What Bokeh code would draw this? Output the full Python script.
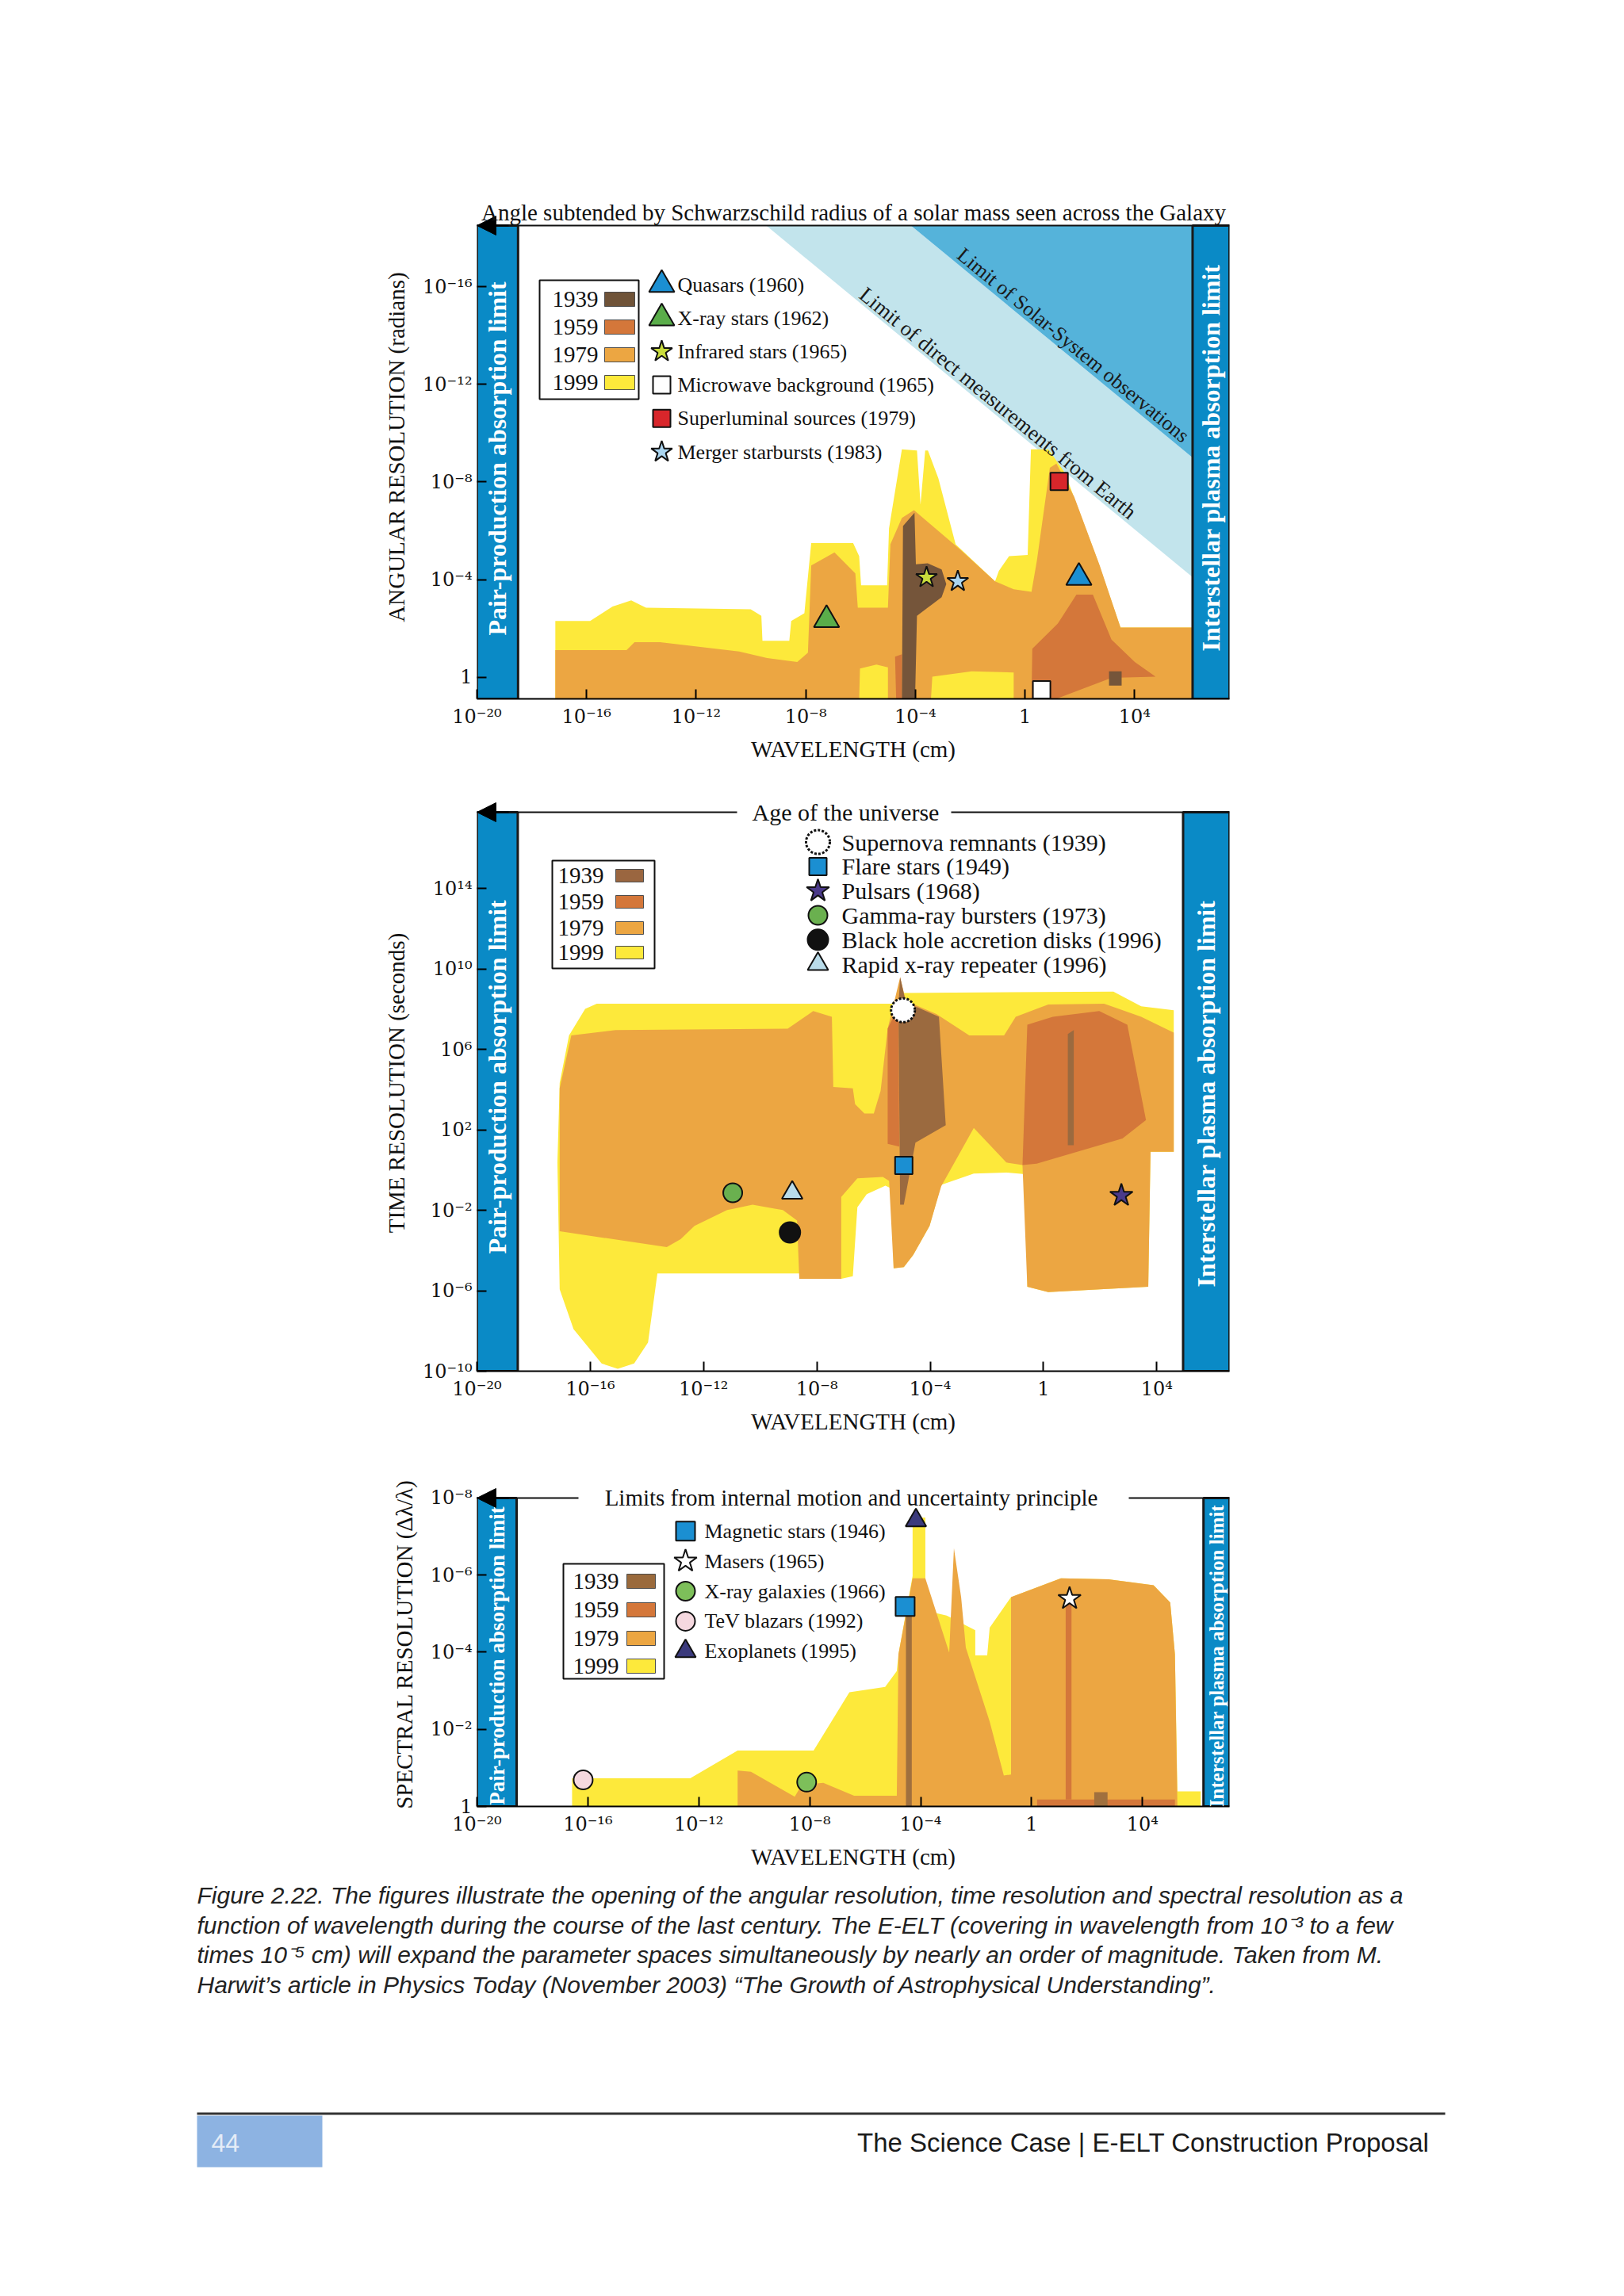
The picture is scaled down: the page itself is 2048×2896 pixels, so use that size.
from bokeh.plotting import figure
from bokeh.layouts import column
from bokeh.models import (Range1d, FixedTicker, CustomJSTickFormatter, Label,
                          Arrow, NormalHead, BoxAnnotation, Span)
from bokeh.embed import file_html
from bokeh.resources import INLINE

# ------------------------------------------------------------------ data
WAVE_TICKS = [-20, -16, -12, -8, -4, 0, 4]          # log10(wavelength / cm)
YEARS = ["1939", "1959", "1979", "1999"]

# ---- Panel 1 : angular resolution (log10 radians) ----
P1_Y_TICKS = [-16, -12, -8, -4, 0]
P1_LIMIT = -18.5      # Schwarzschild angle (top line)
P1_1999_X = [-17.14, -17.14, -15.87, -15.05, -14.37, -13.83, -10.01, -9.62, -9.58, -8.60, -8.53, -8.05, -7.80, -6.27, -6.05, -5.98, -5.03, -4.96, -4.49, -3.94, -3.81, -3.64, -3.54, -3.16, -2.53, -1.09, -0.95, -0.58, 0.10, 0.22, 0.86, 1.46, 2.65, 3.49, 6.13, 6.13]
P1_1999_Y = [0.89, -2.31, -2.31, -2.90, -3.15, -2.85, -2.79, -2.52, -1.50, -1.50, -2.31, -2.63, -5.50, -5.50, -4.96, -3.77, -3.77, -6.10, -9.34, -9.29, -7.07, -9.29, -9.29, -8.15, -5.45, -3.93, -4.36, -4.96, -5.01, -9.34, -9.34, -8.37, -4.80, -2.04, -2.04, 0.89]
P1_1979_X = [-17.14, -17.14, -14.54, -14.25, -13.32, -10.43, -9.41, -8.31, -7.92, -7.80, -6.95, -6.19, -6.10, -5.00, -4.91, -4.49, -4.05, -2.36, -1.09, -0.41, 0.24, 0.44, 0.91, 1.15, 1.80, 2.73, 3.49, 6.13, 6.13, -0.41, -0.41, -1.94, -3.38, -3.43, -5.00, -5.00, -5.42, -6.02, -6.05]
P1_1979_Y = [0.89, -1.12, -1.12, -1.44, -1.44, -1.06, -0.79, -0.63, -1.01, -4.58, -5.12, -4.26, -2.85, -2.85, -5.45, -6.53, -6.85, -5.23, -3.93, -3.61, -3.50, -4.80, -8.58, -8.75, -7.39, -4.58, -2.04, -2.04, 0.89, 0.89, -0.20, -0.25, -0.03, 0.89, 0.89, -0.41, -0.52, -0.36, 0.89]
P1_1959_X = [[0.24, 0.27, 1.20, 1.88, 2.48, 3.16, 4.01, 4.77, 3.16, 1.12], [-4.74, -4.49, -4.49, -4.70]]
P1_1959_Y = [[0.89, -1.17, -2.20, -3.39, -3.39, -1.55, -0.63, -0.03, 0.02, 0.89], [-0.85, -0.95, 0.89, 0.89]]
P1_1939_X = [[-4.49, -4.45, -4.03, -3.98, -3.55, -3.04, -2.87, -3.04, -3.55, -3.94, -4.01], [3.07, 3.53, 3.53, 3.07]]
P1_1939_Y = [[0.89, -6.20, -6.74, -4.63, -4.67, -4.42, -3.82, -3.28, -2.85, -2.52, 0.89], [-0.25, -0.25, 0.34, 0.34]]
P1_EARTH_X = [-9.44, -4.16, 6.12, 6.12]
P1_EARTH_Y = [-18.5, -18.5, -9.0, -4.1]
P1_SOLAR_X = [-4.16, 6.12, 6.12]
P1_SOLAR_Y = [-18.5, -18.5, -9.0]
P1_SRC = ["Quasars (1960)", "X-ray stars (1962)", "Infrared stars (1965)",
          "Microwave background (1965)", "Superluminal sources (1979)", "Merger starbursts (1983)"]
P1_SRC_X = [1.97, -7.24, -3.59, 0.61, 1.25, -2.45]
P1_SRC_Y = [-4.09, -2.36, -4.09, 0.51, -8.02, -3.93]

# ---- Panel 2 : time resolution (log10 seconds) ----
P2_Y_TICKS = [14, 10, 6, 2, -2, -6, -10]
P2_LIMIT = 17.8       # age of the universe (top line)
P2_1999_X = [-15.77, -5.26, -5.09, 2.47, 3.45, 4.60, 4.60, 3.78, 3.70, 0.17, -0.57, -0.57, -1.31, -2.46, -3.61, -4.02, -4.60, -4.93, -5.29, -5.34, -5.58, -6.24, -6.57, -6.73, -7.14, -8.62, -8.62, -13.63, -13.96, -14.45, -15.03, -15.60, -16.59, -17.08, -17.16, -17.08, -16.75, -16.18]
P2_1999_Y = [8.28, 8.28, 8.81, 8.88, 8.15, 7.95, 0.91, 0.91, -5.80, -6.07, -5.80, -0.21, -0.12, -0.17, -0.73, -2.77, -4.22, -4.82, -4.88, -0.93, -0.77, -1.20, -1.85, -5.28, -5.41, -5.41, -5.14, -5.14, -8.57, -9.62, -9.88, -9.62, -7.91, -5.93, 0.38, 4.33, 6.70, 8.02]
P2_1979_X = [-16.67, -15.11, -9.03, -8.13, -7.47, -7.42, -6.73, -6.65, -6.32, -5.99, -5.75, -5.50, -5.26, -5.06, -4.86, -3.78, -2.62, -1.39, -0.98, 0.17, 2.14, 3.45, 4.60, 4.60, 3.78, 3.70, 0.17, -0.57, -0.74, -1.31, -2.46, -3.61, -4.02, -4.60, -4.93, -5.29, -5.45, -5.67, -6.57, -7.14, -7.14, -8.62, -8.70, -9.20, -10.27, -11.17, -12.32, -12.81, -13.30, -17.08, -17.08]
P2_1979_Y = [6.70, 6.97, 7.03, 7.91, 7.63, 4.14, 4.07, 3.28, 2.82, 2.82, 3.94, 7.03, 8.42, 9.60, 8.42, 7.76, 6.70, 6.70, 7.63, 8.24, 8.28, 7.63, 6.84, 0.91, 0.91, -5.80, -6.07, -5.80, 0.25, 0.38, 2.10, -0.80, -2.77, -4.22, -4.82, -4.88, -0.54, -0.34, -0.41, -1.33, -5.41, -5.41, -2.51, -1.99, -1.72, -1.99, -2.77, -3.43, -3.83, -3.04, 4.07]
P2_1959_X = [[-0.74, -0.57, 0.33, 1.97, 2.96, 3.62, 2.79, -0.24], [-5.50, -5.12, -5.09, -5.50]]
P2_1959_Y = [[0.25, 7.23, 7.63, 7.91, 7.23, 2.49, 1.57, 0.32], [7.03, 8.15, 1.17, 1.31]]
P2_1939_X = [[-5.06, -4.86, -3.69, -3.45, -4.52, -4.93, -5.06, -5.12], [0.86, 1.07, 1.07, 0.86]]
P2_1939_Y = [[9.60, 8.35, 7.63, 2.23, 1.37, -1.72, -1.72, 8.15], [6.77, 6.97, 1.24, 1.24]]
P2_SRC = ["Supernova remnants (1939)", "Flare stars (1949)", "Pulsars (1968)",
          "Gamma-ray bursters (1973)", "Black hole accretion disks (1996)", "Rapid x-ray repeater (1996)"]
P2_SRC_X = [-4.96, -4.93, 2.75, -10.97, -8.95, -8.87]
P2_SRC_Y = [7.95, 0.23, -1.26, -1.13, -3.10, -1.13]

# ---- Panel 3 : spectral resolution (log10 dl/l) ----
P3_Y_TICKS = [-8, -6, -4, -2, 0]
P3_LIMIT = -8.0       # internal motion / uncertainty principle (top line)
P3_1999_X = [-16.57, -16.57, -12.31, -10.60, -7.86, -6.57, -5.28, -4.86, -4.80, -4.29, -4.29, -3.83, -3.83, -3.06, -2.03, -2.03, -1.60, -1.51, -0.74, 1.06, 2.77, 4.40, 5.00, 5.17, 5.26, 6.10, 6.10]
P3_1999_Y = [0.0, -0.73, -0.73, -1.45, -1.45, -2.96, -3.10, -3.51, -3.95, -5.98, -7.49, -7.49, -5.08, -4.95, -4.57, -3.92, -3.92, -4.64, -5.43, -5.92, -5.89, -5.74, -5.29, -3.95, -0.39, -0.39, 0.0]
P3_1979_X = [-10.60, -10.60, -10.12, -8.54, -8.29, -7.51, -6.40, -4.86, -4.80, -4.29, -3.83, -2.97, -2.80, -2.54, -2.37, -1.51, -1.00, -0.74, -0.74, 1.06, 2.77, 4.40, 5.00, 5.17, 5.26]
P3_1979_Y = [0.0, -0.93, -0.90, -0.25, -0.56, -0.61, -0.28, -0.28, -3.95, -5.92, -5.92, -3.99, -6.70, -5.43, -4.12, -2.20, -0.80, -0.83, -5.43, -5.92, -5.89, -5.74, -5.29, -3.95, 0.0]
P3_1959_X = [[0.20, 5.17, 5.17, 0.20], [1.23, 1.44, 1.44, 1.23]]
P3_1959_Y = [[-0.18, -0.18, 0.0, 0.0], [-5.33, -5.33, -0.18, -0.18]]
P3_1939_X = [[-4.53, -4.32, -4.32, -4.53], [2.26, 2.74, 2.74, 2.26]]
P3_1939_Y = [[-5.08, -5.08, 0.0, 0.0], [-0.37, -0.37, 0.0, 0.0]]
P3_SRC = ["Magnetic stars (1946)", "Masers (1965)", "X-ray galaxies (1966)",
          "TeV blazars (1992)", "Exoplanets (1995)"]
P3_SRC_X = [-4.56, 1.37, -8.11, -16.17, -4.17]
P3_SRC_Y = [-5.19, -5.39, -0.63, -0.69, -7.42]

# ------------------------------------------------------------------ style
SERIF = "Liberation Serif"
TICKFONT = "DejaVu Serif"
SANS = "Liberation Sans"
YELLOW, ORANGE, DKORANGE = "#fde93b", "#eca642", "#d4773a"
BAND, SOLAR, EARTH = "#0a8ac6", "#55b3da", "#c2e4ec"
PAGE_W = 2032
FRAME_L, FRAME_W = 601, 949

TICK_JS = """
const e = Math.round(Math.log10(tick));
if (e === 0) { return "1"; }
const m = {"-": "\u207b", "0": "\u2070", "1": "\u00b9", "2": "\u00b2", "3": "\u00b3",
           "4": "\u2074", "5": "\u2075", "6": "\u2076", "7": "\u2077", "8": "\u2078", "9": "\u2079"};
return "10" + String(e).split("").map(c => m[c]).join("");
"""


class Frame:
    def __init__(self, top, h, x0, x1, ytop, ybot, lim):
        self.left, self.top, self.w, self.h = FRAME_L, top, FRAME_W, h
        self.x0, self.x1, self.ytop, self.ybot, self.lim = x0, x1, ytop, ybot, lim

    def X(self, px):
        return 10 ** (self.x0 + (px - self.left) / self.w * (self.x1 - self.x0))

    def Y(self, py):
        return 10 ** (self.ytop + (py - self.top) / self.h * (self.ybot - self.ytop))


def pw(v):
    return [10.0 ** a for a in v]


def make_panel(F, fig_top, border_bottom, yticks, ylabel):
    p = figure(frame_width=F.w, frame_height=F.h,
               x_axis_type="log", y_axis_type="log",
               x_range=Range1d(10 ** F.x0, 10 ** F.x1),
               y_range=Range1d(10 ** F.ybot, 10 ** F.ytop),
               min_border_left=F.left, min_border_right=PAGE_W - F.left - F.w,
               min_border_top=F.top - fig_top, min_border_bottom=border_bottom,
               output_backend="svg", toolbar_location=None,
               background_fill_color="white", border_fill_color="white")
    p.xaxis.ticker = FixedTicker(ticks=pw(WAVE_TICKS))
    p.yaxis.ticker = FixedTicker(ticks=pw(yticks))
    p.xaxis.formatter = CustomJSTickFormatter(code=TICK_JS)
    p.yaxis.formatter = CustomJSTickFormatter(code=TICK_JS)
    p.xaxis.axis_label = "WAVELENGTH (cm)"
    p.yaxis.axis_label = ylabel
    for ax in (p.xaxis[0], p.yaxis[0]):
        ax.major_tick_in = 12
        ax.major_tick_out = 0
        ax.minor_tick_line_color = None
        ax.axis_line_color = "black"
        ax.axis_line_width = 2
        ax.major_tick_line_color = "black"
        ax.major_tick_line_width = 2
        ax.major_label_text_font = TICKFONT
        ax.major_label_text_font_size = "24px"
        ax.major_label_text_color = "#111111"
        ax.axis_label_text_font = SERIF
        ax.axis_label_text_font_size = "29px"
        ax.axis_label_text_font_style = "normal"
        ax.axis_label_text_color = "#111111"
    p.yaxis.axis_line_color = None
    p.xaxis.major_label_standoff = 8
    p.xaxis.axis_label_standoff = 8
    p.yaxis.major_label_standoff = 6
    p.yaxis.axis_label_standoff = 14
    p.xgrid.visible = False
    p.ygrid.visible = False
    p.outline_line_color = None
    return p


def regions(p, y99, o79, d59, b39, brown):
    p.patch(pw(y99[0]), pw(y99[1]), fill_color=YELLOW, line_color=None)
    p.patch(pw(o79[0]), pw(o79[1]), fill_color=ORANGE, line_color=None)
    p.patches([pw(a) for a in d59[0]], [pw(a) for a in d59[1]], fill_color=DKORANGE, line_color=None)
    p.patches([pw(a) for a in b39[0]], [pw(a) for a in b39[1]], fill_color=brown, line_color=None)


def frame_box(p, F, left_edge, right_edge, ltext, rtext, ly, ry, lsize, rsize,
              title, tsize, title_y, title_x, gap=None):
    ylo, ytop = 10 ** F.ybot, 10 ** F.lim
    p.quad(left=10 ** F.x0, right=10 ** left_edge, bottom=ylo, top=ytop,
           fill_color=BAND, line_color="#1a1a1a", line_width=3)
    p.quad(left=10 ** right_edge, right=10 ** F.x1, bottom=ylo, top=ytop,
           fill_color=BAND, line_color="#1a1a1a", line_width=3)
    if gap is None:
        p.add_layout(Span(location=ytop, dimension="width", line_color="#111111", line_width=2))
    else:
        p.segment(x0=[10 ** F.x0, F.X(gap[1])], y0=[ytop, ytop],
                  x1=[F.X(gap[0]), 10 ** F.x1], y1=[ytop, ytop],
                  line_color="#111111", line_width=2)
    for txt, xm, py, sz in ((ltext, (F.x0 + left_edge) / 2, ly, lsize),
                            (rtext, (right_edge + F.x1) / 2, ry, rsize)):
        p.add_layout(Label(x=10 ** xm, y=F.Y(py), text=txt, angle=1.5708,
                           text_align="center", text_baseline="middle",
                           text_font=SERIF, text_font_style="bold",
                           text_font_size=f"{sz}px", text_color="white"))
    p.add_layout(Arrow(end=NormalHead(size=24, fill_color="black", line_color="black"),
                       x_start=F.X(F.left + 40), y_start=ytop, x_end=10 ** F.x0, y_end=ytop,
                       line_color="black", line_width=2))
    ty = ytop if title_y is None else F.Y(title_y)
    p.add_layout(Label(x=F.X(title_x), y=ty, text=title, text_align="center",
                       text_baseline="middle", text_font=SERIF,
                       text_font_size=f"{tsize}px", text_color="#111111"))


def year_legend(p, F, box, text_x, rows, sw, half, colors, fsize):
    l, t, r, b = box
    p.quad(left=F.X(l), right=F.X(r), top=F.Y(t), bottom=F.Y(b),
           fill_color="white", line_color="#111111", line_width=2)
    for yr, py, c in zip(YEARS, rows, colors):
        p.add_layout(Label(x=F.X(text_x), y=F.Y(py), text=yr, text_align="left",
                           text_baseline="middle", text_font=SERIF,
                           text_font_size=f"{fsize}px", text_color="#111111"))
        p.quad(left=F.X(sw[0]), right=F.X(sw[1]), top=F.Y(py - half), bottom=F.Y(py + half),
               fill_color=c, line_color="#4d4d4d", line_width=1)


def sources(p, F, names, xs, ys, styles, leg_mx, leg_tx, leg_y0, pitch, fsize):
    for i, (nm, x, y, st) in enumerate(zip(names, xs, ys, styles)):
        marker, color, size, dash, lw = st
        kw = dict(marker=marker, size=size, fill_color=color, line_color="#111111",
                  line_width=lw, line_dash=dash)
        p.scatter([10 ** x], [10 ** y], **kw)
        py = leg_y0 + i * pitch
        p.scatter([F.X(leg_mx)], [F.Y(py)], **kw)
        p.add_layout(Label(x=F.X(leg_tx), y=F.Y(py), text=nm, text_align="left",
                           text_baseline="middle", text_font=SERIF,
                           text_font_size=f"{fsize}px", text_color="#111111"))


# ================================================================== panel 1
F1 = Frame(246, 635, -20, 7.467, -19.734, 0.88, P1_LIMIT)
p1 = make_panel(F1, 0, 80, P1_Y_TICKS, "ANGULAR RESOLUTION (radians)")
p1.patch(pw(P1_EARTH_X), pw(P1_EARTH_Y), fill_color=EARTH, line_color=None)
p1.patch(pw(P1_SOLAR_X), pw(P1_SOLAR_Y), fill_color=SOLAR, line_color=None)
regions(p1, (P1_1999_X, P1_1999_Y), (P1_1979_X, P1_1979_Y), (P1_1959_X, P1_1959_Y),
        (P1_1939_X, P1_1939_Y), "#75553a")
p1.add_layout(Label(x=F1.X(1353), y=F1.Y(435), text="Limit of Solar-System observations",
                    angle=-0.688, text_align="center", text_baseline="middle",
                    text_font=SERIF, text_font_size="26px", text_color="#1a1a1a"))
p1.add_layout(Label(x=F1.X(1258), y=F1.Y(508), text="Limit of direct measurements from Earth",
                    angle=-0.688, text_align="center", text_baseline="middle",
                    text_font=SERIF, text_font_size="27px", text_color="#1a1a1a"))
year_legend(p1, F1, (680, 353, 805, 503), 696, [377, 412, 447, 482], (762, 800), 9,
            ["#6f5338", DKORANGE, ORANGE, YELLOW], 29)
P1_STYLE = [("triangle", "#1b8fd2", 32, "solid", 2), ("triangle", "#5aad4a", 32, "solid", 2),
            ("star", "#c9dc3c", 28, "solid", 2), ("square", "#ffffff", 22, "solid", 2),
            ("square", "#d8262b", 22, "solid", 2), ("star", "#aad5f0", 28, "solid", 2)]
sources(p1, F1, P1_SRC, P1_SRC_X, P1_SRC_Y, P1_STYLE, 834, 854, 358.5, 42.2, 26)
frame_box(p1, F1, -18.5, 6.12, "Pair-production absorption limit",
          "Interstellar plasma absorption limit", 578, 577, 32, 32,
          "Angle subtended by Schwarzschild radius of a solar mass seen across the Galaxy",
          29, 267, 1076)

# ================================================================== panel 2
F2 = Frame(1000, 727, -20, 6.568, 18.6675, -10, P2_LIMIT)
p2 = make_panel(F2, 961, 80, P2_Y_TICKS, "TIME RESOLUTION (seconds)")
regions(p2, (P2_1999_X, P2_1999_Y), (P2_1979_X, P2_1979_Y), (P2_1959_X, P2_1959_Y),
        (P2_1939_X, P2_1939_Y), "#9b6a3f")
year_legend(p2, F2, (696, 1083, 825, 1219), 703, [1102, 1135, 1168, 1199], (776, 811), 8,
            ["#9a6640", DKORANGE, ORANGE, YELLOW], 29)
P2_STYLE = [("circle", "#ffffff", 30, "3 2", 3), ("square", "#1b8fd2", 22, "solid", 2),
            ("star", "#4b3a8a", 30, "solid", 2), ("circle", "#6ab04f", 24, "solid", 2),
            ("circle", "#111111", 26, "solid", 2), ("triangle", "#b9dcea", 26, "solid", 2)]
sources(p2, F2, P2_SRC, P2_SRC_X, P2_SRC_Y, P2_STYLE, 1031, 1061, 1059.6, 30.8, 30)
frame_box(p2, F2, -18.56, 4.93, "Pair-production absorption limit",
          "Interstellar plasma absorption limit", 1356, 1377, 32, 32,
          "Age of the universe", 30, None, 1066, gap=(929, 1199))

# ================================================================== panel 3
F3 = Frame(1865, 409, -20, 7.138, -8.4113, 0, P3_LIMIT)
p3 = make_panel(F3, 1807, 86, P3_Y_TICKS, "SPECTRAL RESOLUTION (\u0394\u03bb/\u03bb)")
regions(p3, (P3_1999_X, P3_1999_Y), (P3_1979_X, P3_1979_Y), (P3_1959_X, P3_1959_Y),
        (P3_1939_X, P3_1939_Y), "#a0703e")
year_legend(p3, F3, (710, 1968, 837, 2113), 722, [1990, 2026, 2062, 2097], (790, 826), 9,
            ["#9a6a3c", DKORANGE, ORANGE, YELLOW], 29)
P3_STYLE = [("square", "#1b8fd2", 24, "solid", 2), ("star", "#ffffff", 30, "solid", 2),
            ("circle", "#7dbf5a", 24, "solid", 2), ("circle", "#f5d8df", 24, "solid", 2),
            ("triangle", "#3b3a7c", 26, "solid", 2)]
sources(p3, F3, P3_SRC, P3_SRC_X, P3_SRC_Y, P3_STYLE, 864, 888, 1926.7, 37.9, 26)
frame_box(p3, F3, -18.57, 6.2, "Pair-production absorption limit",
          "Interstellar plasma absorption limit", 2084, 2084, 27, 25,
          "Limits from internal motion and uncertainty principle", 29, None, 1073,
          gap=(729, 1423))

# ================================================================== caption / footer
CAPTION = [
    "Figure 2.22. The figures illustrate the opening of the angular resolution, time resolution and spectral resolution as a",
    "function of wavelength during the course of the last century. The E-ELT (covering in wavelength from 10\u207b\u00b3 to a few",
    "times 10\u207b\u2075 cm) will expand the parameter spaces simultaneously by nearly an order of magnitude. Taken from M.",
    "Harwit\u2019s article in Physics Today (November 2003) \u201cThe Growth of Astrophysical Understanding\u201d.",
]
pc = figure(frame_width=PAGE_W, frame_height=400, x_range=Range1d(0, PAGE_W),
            y_range=Range1d(2760, 2360), min_border=0, output_backend="svg",
            toolbar_location=None, background_fill_color="white", border_fill_color="white")
pc.axis.visible = False
pc.grid.visible = False
pc.outline_line_color = None
for line, yy in zip(CAPTION, [2386, 2424, 2461, 2499]):
    pc.add_layout(Label(x=248, y=yy, text=line, text_align="left", text_baseline="middle",
                        text_font=SANS, text_font_style="italic", text_font_size="30px",
                        text_color="#222222"))
pc.add_layout(BoxAnnotation(left=248, right=1822, top=2660, bottom=2663,
                            fill_color="#333333", fill_alpha=1, line_color=None))
pc.add_layout(BoxAnnotation(left=248, right=406, top=2664, bottom=2729,
                            fill_color="#8db3e2", fill_alpha=1, line_color=None))
pc.add_layout(Label(x=266, y=2698, text="44", text_align="left", text_baseline="middle",
                    text_font=SANS, text_font_size="32px", text_color="#e4ecf7"))
pc.add_layout(Label(x=1802, y=2698, text="The Science Case | E-ELT Construction Proposal",
                    text_align="right", text_baseline="middle", text_font=SANS,
                    text_font_size="33px", text_color="#1a1a1a"))

layout = column(p1, p2, p3, spacing=0)
open("out.html", "w").write(file_html([layout, pc], INLINE))
